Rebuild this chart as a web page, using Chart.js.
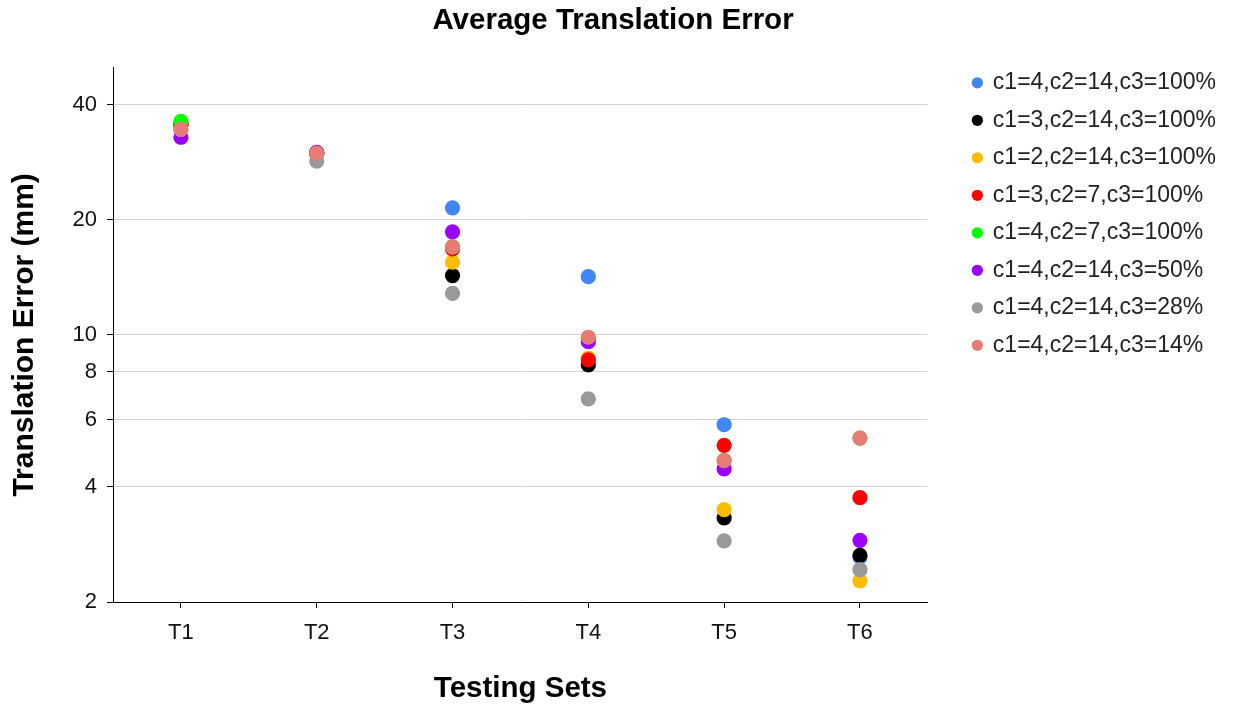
<!DOCTYPE html>
<html>
<head>
<meta charset="utf-8">
<script src="https://cdn.jsdelivr.net/npm/chart.js@4/dist/chart.umd.min.js"></script>
<style>
  html, body { margin: 0; padding: 0; background: #ffffff; }
  #wrap { width: 1233px; height: 709px; }
</style>
</head>
<body>
<div id="wrap"><canvas id="chart" width="1233" height="709"></canvas></div>
<script>
// Testing sets along the x axis
const testingSets = ['T1', 'T2', 'T3', 'T4', 'T5', 'T6'];

// Series names, in legend order
const seriesNames = [
  'c1=4,c2=14,c3=100%',
  'c1=3,c2=14,c3=100%',
  'c1=2,c2=14,c3=100%',
  'c1=3,c2=7,c3=100%',
  'c1=4,c2=7,c3=100%',
  'c1=4,c2=14,c3=50%',
  'c1=4,c2=14,c3=28%',
  'c1=4,c2=14,c3=14%'
];

// Average translation error (mm) per testing set
const errC1_4_C2_14_C3_100 = [35.5, 29.9, 21.5, 14.2, 5.82, 2.62];
const errC1_3_C2_14_C3_100 = [35.5, 29.9, 14.3, 8.35, 3.32, 2.65];
const errC1_2_C2_14_C3_100 = [35.5, 29.9, 15.5, 8.7, 3.49, 2.27];
const errC1_3_C2_7_C3_100  = [35.5, 29.9, 16.8, 8.6, 5.14, 3.75];
const errC1_4_C2_7_C3_100  = [36.2, 29.9, 17.0, 9.8, 4.69, 5.37];
const errC1_4_C2_14_C3_50  = [32.9, 30.05, 18.6, 9.6, 4.46, 2.90];
const errC1_4_C2_14_C3_28  = [34.5, 28.5, 12.85, 6.8, 2.89, 2.43];
const errC1_4_C2_14_C3_14  = [34.5, 29.9, 17.0, 9.86, 4.69, 5.37];

const seriesValues = [
  errC1_4_C2_14_C3_100, errC1_3_C2_14_C3_100, errC1_2_C2_14_C3_100, errC1_3_C2_7_C3_100,
  errC1_4_C2_7_C3_100, errC1_4_C2_14_C3_50, errC1_4_C2_14_C3_28, errC1_4_C2_14_C3_14
];

const seriesColors = ['#4285f4', '#000000', '#fbbc04', '#ff0000', '#00ff00', '#9900ff', '#999999', '#e67c73'];

// Labelled values on the logarithmic y axis
const yTickValues = [2, 4, 6, 8, 10, 20, 40];

const FONT = "'Liberation Sans', Arial, Helvetica, sans-serif";
Chart.defaults.font.family = FONT;
Chart.defaults.color = '#222222';

const datasets = seriesNames.map((name, i) => ({
  label: name,
  data: seriesValues[i],
  showLine: false,
  pointStyle: 'circle',
  pointRadius: 7.6,
  pointHoverRadius: 7.6,
  pointBorderWidth: 0,
  borderWidth: 0,
  backgroundColor: seriesColors[i],
  borderColor: seriesColors[i],
  pointBackgroundColor: seriesColors[i],
  // later series are painted over earlier ones
  order: seriesNames.length - 1 - i
}));

// Start the legend column just under the chart title
const legendBelowTitle = {
  id: 'legendBelowTitle',
  afterLayout(chart) {
    if (chart.legend && chart.titleBlock) {
      chart.legend.top = chart.titleBlock.bottom;
    }
  }
};

new Chart(document.getElementById('chart'), {
  type: 'line',
  data: { labels: testingSets, datasets },
  plugins: [legendBelowTitle],
  options: {
    responsive: false,
    devicePixelRatio: 1,
    animation: false,
    layout: { padding: { left: 0, right: 7, top: 0, bottom: 0 } },
    plugins: {
      title: {
        display: true,
        text: 'Average Translation Error',
        color: '#000000',
        font: { size: 29.5, weight: 'bold', family: FONT },
        padding: { top: 3, bottom: 18.4 }
      },
      legend: {
        position: 'right',
        align: 'start',
        maxWidth: 320,
        labels: {
          usePointStyle: true,
          pointStyle: 'circle',
          boxWidth: 8,
          boxHeight: 8,
          padding: 14.5,
          color: '#222222',
          font: { size: 23, family: FONT },
          sort: (a, b) => a.datasetIndex - b.datasetIndex
        }
      },
      tooltip: { enabled: false }
    },
    scales: {
      x: {
        type: 'category',
        offset: true,
        grid: {
          display: true,
          drawOnChartArea: false,
          tickLength: 6,
          tickColor: '#000000',
          offset: false
        },
        border: { display: true, color: '#000000', width: 1 },
        ticks: { color: '#111111', font: { size: 22, family: FONT }, padding: 12 },
        title: {
          display: true,
          text: 'Testing Sets',
          color: '#000000',
          font: { size: 29.5, weight: 'bold', family: FONT },
          padding: { top: 0, bottom: 2 }
        },
        afterFit: (scale) => { scale.height = 107; }
      },
      y: {
        type: 'logarithmic',
        min: 2,
        max: 50,
        afterBuildTicks: (scale) => { scale.ticks = yTickValues.map(v => ({ value: v })); },
        grid: {
          color: '#d3d3d3',
          lineWidth: 1,
          tickLength: 6,
          tickColor: '#000000'
        },
        border: { display: true, color: '#000000', width: 1 },
        ticks: {
          color: '#111111',
          font: { size: 22, family: FONT },
          padding: 10,
          callback: (v) => String(v)
        },
        title: {
          display: true,
          text: 'Translation Error (mm)',
          color: '#000000',
          font: { size: 30, weight: 'bold', family: FONT },
          padding: { top: 7, bottom: 0 }
        },
        afterFit: (scale) => { scale.width = 113; }
      },
      // empty margins between the plot and the title / legend
      gapTop: {
        type: 'linear', position: 'top', display: true,
        grid: { display: false }, border: { display: false }, ticks: { display: false },
        afterFit: (scale) => { scale.height = 11; }
      },
      gapRight: {
        type: 'linear', position: 'right', display: true,
        grid: { display: false }, border: { display: false }, ticks: { display: false },
        afterFit: (scale) => { scale.width = 31; }
      }
    }
  }
});
</script>
</body>
</html>
